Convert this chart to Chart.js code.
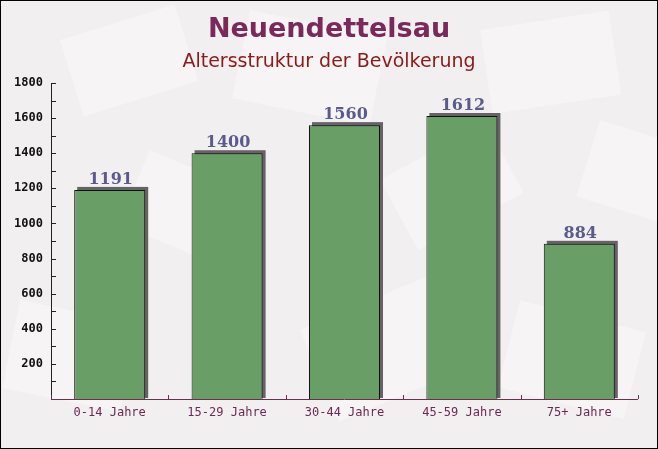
<!DOCTYPE html>
<html><head><meta charset="utf-8">
<script src="https://cdn.jsdelivr.net/npm/chart.js@4/dist/chart.umd.min.js"></script>
<style>html,body{margin:0;padding:0;background:#fff}#wrap{width:658px;height:449px;position:relative}</style>
</head><body><div id="wrap"><canvas id="c" width="658" height="449"></canvas></div>
<script>
const categories = ["0-14 Jahre","15-29 Jahre","30-44 Jahre","45-59 Jahre","75+ Jahre"];
const values = [1191,1400,1560,1612,884];
const yMax = 1800;
const yStep = 100;
const titleText = "Neuendettelsau";
const subtitleText = "Altersstruktur der Bevölkerung";

const bgPlugin = {
  id:'bg',
  beforeDraw(chart){
    const ctx=chart.ctx, w=chart.width, h=chart.height;
    ctx.save();
    ctx.fillStyle='#f2eff1';
    ctx.fillRect(0,0,w,h);
    const shapes=[[60,40,120,80,-0.3],[250,10,140,90,0.2],[480,30,130,85,-0.15],[600,120,110,80,0.3],[20,300,120,90,0.2],[300,330,150,100,-0.4],[520,300,130,90,0.25],[380,180,120,80,-0.5],[150,150,110,80,0.4]];
    ctx.fillStyle='rgba(255,255,255,0.3)';
    shapes.forEach(s=>{ctx.save();ctx.translate(s[0],s[1]);ctx.rotate(s[4]);ctx.fillRect(0,0,s[2],s[3]);ctx.restore();});
    ctx.restore();
  },
  afterDraw(chart){
    const ctx=chart.ctx;
    ctx.save();
    ctx.strokeStyle='#000';ctx.lineWidth=1;
    ctx.strokeRect(0.5,0.5,chart.width-1,chart.height-1);
    ctx.textAlign='center';ctx.textBaseline='middle';
    ctx.fillStyle='#7a2a5a';
    ctx.font='bold 27px "DejaVu Sans", sans-serif';
    ctx.fillText(titleText, chart.width/2, 30);
    ctx.fillStyle='#8b1a1a';
    ctx.font='19px "DejaVu Sans", sans-serif';
    ctx.fillText(subtitleText, chart.width/2, 62);
    ctx.restore();
  }
};

const barDeco = {
  id:'barDeco',
  beforeDatasetsDraw(chart){
    const ctx=chart.ctx, meta=chart.getDatasetMeta(0);
    ctx.save();
    ctx.fillStyle='#676266';
    meta.data.forEach(b=>{
      const l=b.x-b.width/2, t=b.y;
      ctx.fillRect(l+3, t-3, b.width, b.base-t+3-1);
    });
    ctx.restore();
  },
  afterDatasetsDraw(chart){
    const ctx=chart.ctx, meta=chart.getDatasetMeta(0);
    const x=chart.scales.x, y=chart.scales.y, a=chart.chartArea;
    ctx.save();
    ctx.lineWidth=1;
    ctx.strokeStyle='#222';
    ctx.beginPath();ctx.moveTo(a.left+0.5,a.top);ctx.lineTo(a.left+0.5,a.bottom);ctx.stroke();
    for(let v=yStep; v<=yMax; v+=yStep){
      const py=Math.round(y.getPixelForValue(v))+0.5;
      ctx.beginPath();ctx.moveTo(a.left,py);ctx.lineTo(a.left+5,py);ctx.stroke();
    }
    ctx.strokeStyle='#6b3050';
    ctx.beginPath();ctx.moveTo(a.left,a.bottom+0.5);ctx.lineTo(a.right,a.bottom+0.5);ctx.stroke();
    for(let i=0;i<=categories.length;i++){
      const px=Math.round(x.getPixelForValue(i-0.5))+0.5;
      ctx.beginPath();ctx.moveTo(px,a.bottom);ctx.lineTo(px,a.bottom-4);ctx.stroke();
    }
    ctx.fillStyle='#5b5b8a';
    ctx.font='bold 16px "DejaVu Serif", serif';
    ctx.textAlign='center';ctx.textBaseline='alphabetic';
    meta.data.forEach((b,i)=>{
      ctx.fillText(String(values[i]), b.x+1, b.y-6);
    });
    ctx.restore();
  }
};

new Chart(document.getElementById('c'),{
  type:'bar',
  data:{labels:categories,datasets:[{data:values,backgroundColor:'#6a9e67',borderColor:'#111',borderWidth:{top:1,left:1,right:1,bottom:0},borderSkipped:false,categoryPercentage:1,barPercentage:0.605}]},
  options:{
    responsive:false,animation:false,devicePixelRatio:1,
    layout:{padding:{top:83,right:20,left:0,bottom:0}},
    plugins:{legend:{display:false},tooltip:{enabled:false}},
    scales:{
      x:{grid:{display:false,drawTicks:false},border:{display:false},
         ticks:{color:'#6b2a55',font:{family:'"DejaVu Sans Mono", monospace',size:12},padding:7,maxRotation:0},
         afterFit(s){s.height=50;}},
      y:{min:0,max:yMax,grid:{display:false,drawTicks:false},border:{display:false},
         ticks:{stepSize:yStep,color:'#111',font:{family:'"DejaVu Sans Mono", monospace',size:12,weight:'bold'},padding:8,
           callback:(v)=> v%200===0 && v>0 ? String(v) : ''},
         afterFit(s){s.width=51;}}
    }
  },
  plugins:[bgPlugin,barDeco]
});
</script></body></html>
